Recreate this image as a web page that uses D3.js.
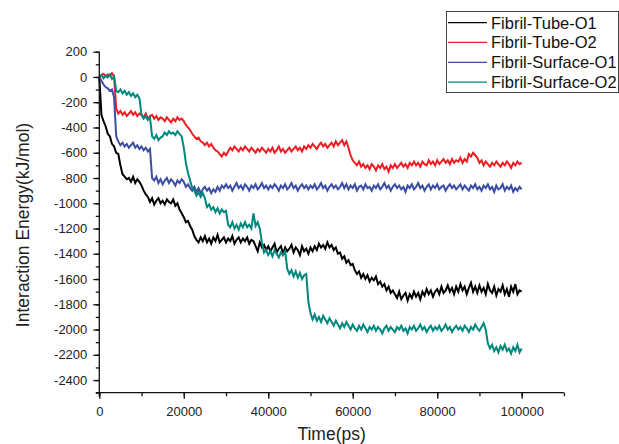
<!DOCTYPE html>
<html>
<head>
<meta charset="utf-8">
<script src="https://cdn.jsdelivr.net/npm/d3@7"></script>
<style>
  html, body { margin: 0; padding: 0; background: #fff; }
  svg { display: block; font-family: "Liberation Sans", Arial, sans-serif; }
</style>
</head>
<body>
<svg id="chart" width="619" height="444"></svg>
<script>
// ---------- DATA ----------
const seriesNames = ["Fibril-Tube-O1", "Fibril-Tube-O2", "Fibril-Surface-O1", "Fibril-Surface-O2"];
const timeStepPs = 500; // samples every 500 ps from 0 to 100000 ps

const tubeO1 = [
  0, -300, -350, -390, -450, -470, -530, -550, -600, -610,
  -700, -770, -790, -810, -800, -830, -790, -840, -810, -830,
  -860, -900, -930, -950, -990, -960, -1010, -980, -960, -1000,
  -980, -1010, -970, -990, -1000, -970, -1020, -1000, -1050, -1080,
  -1110, -1150, -1140, -1180, -1210, -1260, -1290, -1310, -1270, -1300,
  -1260, -1310, -1280, -1320, -1270, -1300, -1250, -1310, -1290, -1270,
  -1310, -1280, -1300, -1260, -1320, -1290, -1270, -1310, -1280, -1300,
  -1270, -1320, -1290, -1300, -1340, -1380, -1310, -1350, -1330, -1370,
  -1340, -1380, -1350, -1320, -1390, -1360, -1340, -1400, -1350, -1380,
  -1360, -1330, -1390, -1350, -1370, -1410, -1340, -1380, -1360, -1400,
  -1350, -1380, -1340, -1370, -1320, -1350, -1330, -1360, -1310, -1350,
  -1330, -1370, -1350, -1400, -1390, -1440, -1420, -1470, -1450, -1490,
  -1480, -1530, -1560, -1540, -1590, -1560, -1600, -1570, -1620, -1590,
  -1610, -1580, -1640, -1620, -1660, -1640, -1690, -1660, -1710, -1690,
  -1720, -1750, -1700, -1760, -1730, -1710, -1770, -1720, -1750, -1700,
  -1740, -1710, -1760, -1700, -1730, -1680, -1720, -1690, -1740, -1700,
  -1680, -1720, -1660, -1710, -1690, -1650, -1700, -1670, -1720, -1660,
  -1700, -1640, -1690, -1660, -1720, -1670, -1630, -1700, -1660, -1710,
  -1650, -1700, -1670, -1720, -1640, -1690, -1710, -1660, -1730, -1680,
  -1700, -1650, -1720, -1680, -1740, -1660, -1700, -1640, -1720, -1690, -1700
];

const tubeO2 = [
  0, 15, 25, 5, 20, 10, 30, 5, -250, -290,
  -270, -300, -280, -310, -290, -270, -300, -280, -310, -290,
  -300, -320, -290, -330, -310, -300, -330, -310, -340, -320,
  -330, -350, -320, -340, -360, -330, -350, -320, -340, -330,
  -350, -380, -400, -420, -450, -470, -490, -480, -510, -520,
  -540, -520, -550, -530, -560, -580, -590, -610, -630, -600,
  -620, -590, -560, -580, -550, -570, -590, -560, -580, -550,
  -570, -590, -560, -580, -600, -570, -590, -560, -580, -600,
  -570, -590, -560, -600, -580, -550, -590, -570, -600, -580,
  -560, -590, -570, -550, -580, -560, -590, -550, -570, -540,
  -560, -530, -550, -570, -540, -520, -550, -530, -560, -540,
  -520, -550, -510, -540, -520, -500, -540, -510, -560, -620,
  -660, -680, -700, -670, -710, -690, -720, -700, -730, -690,
  -710, -740, -700, -720, -690, -730, -710, -750, -700, -720,
  -690, -720, -700, -680, -710, -690, -720, -680, -700, -670,
  -700, -680, -710, -670, -690, -700, -660, -690, -670, -700,
  -660, -690, -670, -650, -680, -660, -690, -650, -680, -660,
  -670, -640, -680, -650, -670, -610, -630, -600, -620, -640,
  -680, -660, -700, -670, -690, -710, -680, -700, -670, -690,
  -710, -680, -700, -670, -690, -720, -680, -700, -670, -690, -680
];

const surfaceO1 = [
  0, -30, -60, -80, -90, -110, -100, -160, -470, -510,
  -540, -520, -550, -530, -560, -540, -520, -560, -540, -570,
  -550, -580, -560, -590, -570, -800, -820, -790, -840, -810,
  -850, -820, -800, -840, -810, -830, -860, -820, -840, -810,
  -830, -870, -850, -880, -900, -870, -910, -880, -920, -890,
  -870, -900, -880, -920, -890, -910, -870, -900, -860, -880,
  -850, -880, -860, -900, -870, -840, -880, -860, -890, -850,
  -870, -900, -860, -880, -850, -890, -870, -840, -880, -860,
  -890, -860, -880, -850, -870, -900, -860, -880, -850, -890,
  -870, -840, -880, -860, -900, -870, -850, -880, -860, -890,
  -860, -880, -850, -890, -870, -840, -880, -860, -900, -870,
  -850, -880, -860, -890, -870, -840, -880, -850, -890, -860,
  -880, -850, -900, -870, -860, -890, -850, -880, -870, -900,
  -860, -880, -850, -890, -870, -840, -880, -860, -900, -870,
  -850, -880, -860, -890, -870, -910, -860, -880, -850, -890,
  -870, -840, -880, -860, -900, -870, -850, -890, -860, -880,
  -850, -890, -870, -860, -900, -870, -850, -880, -860, -890,
  -870, -850, -890, -860, -880, -900, -860, -880, -850, -890,
  -870, -900, -860, -880, -850, -890, -870, -910, -860, -890,
  -880, -850, -900, -870, -890, -860, -910, -880, -900, -870, -890
];

const surfaceO2 = [
  0, 15, -10, 10, -5, 20, -15, 5, -110, -120,
  -100, -130, -110, -140, -120, -150, -130, -160, -140, -170,
  -300, -330, -310, -340, -320, -470, -490, -460, -500, -480,
  -470, -440, -460, -430, -450, -440, -460, -430, -450, -470,
  -560, -680, -760, -820, -880, -900, -940, -910, -950, -920,
  -960, -1030, -1010, -1050, -1030, -1070, -1040, -1080, -1050, -1070,
  -1060, -1170, -1190, -1150, -1200, -1170, -1210, -1160, -1190, -1150,
  -1190, -1170, -1200, -1080, -1180, -1150, -1200, -1310, -1390, -1370,
  -1410, -1380, -1420, -1370, -1400, -1430, -1390, -1410, -1380, -1520,
  -1560, -1530, -1580, -1540, -1590, -1550, -1600, -1570, -1560, -1780,
  -1870, -1920, -1880, -1930, -1900, -1940, -1890, -1920, -1950, -1910,
  -1940, -1970, -1930, -1960, -1990, -1950, -1980, -1940, -1970, -2000,
  -1960, -1990, -2010, -1970, -2000, -1960, -1990, -2020, -1980, -2000,
  -1970, -2010, -1980, -2000, -2030, -1990, -1970, -2010, -1980, -2000,
  -2020, -1980, -2000, -1970, -2010, -1990, -2030, -1980, -2000, -1970,
  -2010, -1990, -1960, -2000, -1980, -2020, -1990, -1970, -2010, -1980,
  -2000, -1970, -2010, -1990, -1960, -2000, -1980, -2020, -1990, -1970,
  -2000, -1980, -2010, -1970, -1990, -2020, -1980, -2000, -1960, -1990,
  -2010, -1980, -1950, -2000, -2110, -2150, -2120, -2170, -2140, -2180,
  -2130, -2160, -2120, -2170, -2150, -2190, -2140, -2170, -2120, -2180, -2150
];

const xTickLabels = [0, 20000, 40000, 60000, 80000, 100000];
const yTickLabels = [200, 0, -200, -400, -600, -800, -1000, -1200, -1400, -1600, -1800, -2000, -2200, -2400];
const xAxisTitle = "Time(ps)";
const yAxisTitle = "Interaction Energy(kJ/mol)";

// ---------- STYLE / LAYOUT ----------
const colors = ["#000000", "#ee1d23", "#3b4ea3", "#00877e"];
const allSeries = [tubeO1, tubeO2, surfaceO1, surfaceO2];

const svg = d3.select("#chart");
const x = d3.scaleLinear().domain([0, 110000]).range([99.3, 563.9]);
const y = d3.scaleLinear().domain([-2500, 200]).range([392.7, 51.7]);

// data lines
const line = d3.line()
  .x((d, i) => x(i * timeStepPs))
  .y(d => y(d));

const plot = svg.append("g");
allSeries.forEach((s, k) => {
  plot.append("path")
    .datum(s)
    .attr("fill", "none")
    .attr("stroke", colors[k])
    .attr("stroke-width", 2)
    .attr("stroke-linejoin", "miter")
    .attr("d", line);
});

// axes
const axisColor = "#111";
const minorX = d3.range(0, 110001, 10000);
const minorY = d3.range(-2500, 201, 100);

const gxMinor = svg.append("g").attr("transform", "translate(0,392.7)")
  .call(d3.axisBottom(x).tickValues(minorX).tickSize(3.5).tickFormat(""));
const gx = svg.append("g").attr("transform", "translate(0,392.7)")
  .call(d3.axisBottom(x).tickValues(xTickLabels).tickSize(6).tickPadding(8).tickFormat(d => String(d)));

const gyMinor = svg.append("g").attr("transform", "translate(99.3,0)")
  .call(d3.axisLeft(y).tickValues(minorY).tickSize(3.5).tickFormat(""));
const gy = svg.append("g").attr("transform", "translate(99.3,0)")
  .call(d3.axisLeft(y).tickValues(yTickLabels).tickSize(6).tickPadding(6).tickFormat(d => String(d)));

[gxMinor, gx, gyMinor, gy].forEach(g => {
  g.selectAll(".domain").attr("stroke", axisColor).attr("stroke-width", 1.3);
  g.selectAll(".tick line").attr("stroke", axisColor).attr("stroke-width", 1.3);
  g.selectAll("text").attr("fill", "#222").style("font-size", "13px")
    .style("font-family", "'Liberation Sans', Arial, sans-serif");
});
gyMinor.select(".domain").remove();
gxMinor.select(".domain").remove();
gx.select(".domain").attr("d", `M${x(0) - 3.5},0H${x(110000)}`);
gy.select(".domain").attr("d", `M0,${y(-2500) + 4}V${y(200)}`);

// axis titles
svg.append("text")
  .attr("x", (x(0) + x(110000)) / 2)
  .attr("y", 440)
  .attr("text-anchor", "middle")
  .attr("fill", "#222")
  .style("font-size", "17.5px")
  .text(xAxisTitle);

svg.append("text")
  .attr("transform", `translate(29,225) rotate(-90)`)
  .attr("text-anchor", "middle")
  .attr("fill", "#222")
  .style("font-size", "17.5px")
  .text(yAxisTitle);

// legend
const legend = svg.append("g");
legend.append("rect")
  .attr("x", 446.5).attr("y", 11.5)
  .attr("width", 172).attr("height", 81)
  .attr("fill", "#fff").attr("stroke", "#444").attr("stroke-width", 1);
const rowY = [22.7, 42.4, 62.3, 82.2];
seriesNames.forEach((name, k) => {
  legend.append("line")
    .attr("x1", 448).attr("x2", 487)
    .attr("y1", rowY[k]).attr("y2", rowY[k])
    .attr("stroke", colors[k]).attr("stroke-width", 1.2);
  legend.append("text")
    .attr("x", 491).attr("y", rowY[k] + 6)
    .attr("fill", "#111")
    .style("font-size", "16.5px")
    .text(name);
});
</script>
</body>
</html>
